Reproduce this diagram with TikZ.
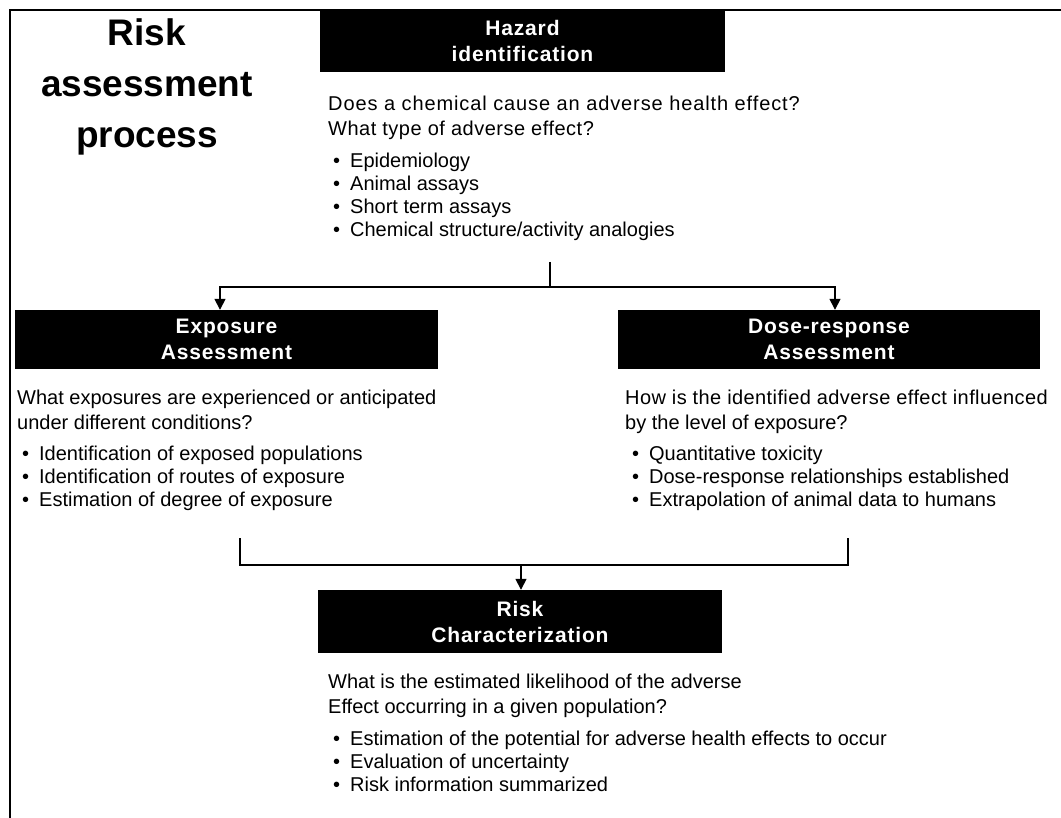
\documentclass[tikz,border=0pt]{standalone}
\usepackage{fontspec}
\setmainfont{Liberation Sans}
\usetikzlibrary{arrows.meta}
\newcommand\mybul{\makebox[17pt][l]{\textbullet}}
\begin{document}
\begin{tikzpicture}[x=1pt,y=-1pt,
  blk/.style={fill=black,text=white,font=\fontsize{21}{26}\selectfont\bfseries\addfontfeature{LetterSpace=4},align=center,inner sep=0pt},
  body/.style={font=\fontsize{20}{25}\selectfont,align=left,anchor=north west,inner sep=0pt},
  blist/.style={font=\fontsize{20}{23}\selectfont,align=left,anchor=north west,inner sep=0pt},
  ttl/.style={font=\fontsize{37}{51}\selectfont\bfseries,align=center},
  conn/.style={line width=1.5pt},
  arr/.style={conn,-{Triangle[width=11pt,length=11pt]}}]
\useasboundingbox (0,0) rectangle (1061,818);
\draw[line width=2pt] (10,818) -- (10,10) -- (1061,10);
\node[ttl] (title) at (147,87) {Risk\\assessment\\process};
% Hazard
\node[blk,minimum width=405pt,minimum height=62pt] (haz) at (522.5,41) {Hazard\\identification};
\node[body] (hq) at (328,96) {{\addfontfeature{LetterSpace=4.5}Does a chemical cause an adverse health effect?}\\{\addfontfeature{LetterSpace=2.5}What type of adverse effect?}};
\node[blist] (hb) at (333,153) {\mybul Epidemiology\\\mybul Animal assays\\\mybul Short term assays\\\mybul Chemical structure/activity analogies};
% Exposure
\node[blk,minimum width=423pt,minimum height=59pt] (expo) at (226.5,339.5) {Exposure\\Assessment};
\node[body] (eq) at (17,390) {What exposures are experienced or anticipated\\under different conditions?};
\node[blist] (eb) at (22,446) {\mybul Identification of exposed populations\\\mybul Identification of routes of exposure\\\mybul Estimation of degree of exposure};
% Dose
\node[blk,minimum width=422pt,minimum height=59pt] (dose) at (829,339.5) {Dose-response\\Assessment};
\node[body] (dq) at (625,390) {{\addfontfeature{LetterSpace=2}How is the identified adverse effect influenced}\\by the level of exposure?};
\node[blist] (db) at (632,446) {\mybul Quantitative toxicity\\\mybul Dose-response relationships established\\\mybul Extrapolation of animal data to humans};
% Risk
\node[blk,minimum width=404pt,minimum height=63pt] (risk) at (520,621.5) {Risk\\Characterization};
\node[body] (rq) at (328,674) {What is the estimated likelihood of the adverse\\Effect occurring in a given population?};
\node[blist] (rb) at (333,731) {\mybul Estimation of the potential for adverse health effects to occur\\\mybul Evaluation of uncertainty\\\mybul Risk information summarized};
% upper connector
\coordinate (h1) at (550,262);
\coordinate (j1) at (550,287);
\coordinate (ea) at (220,287);
\coordinate (da) at (835,287);
\draw[conn] (h1) -- (j1);
\draw[arr] (j1) -- (ea) -- (expo.north -| ea);
\draw[arr] (j1) -- (da) -- (dose.north -| da);
% lower connector
\coordinate (l1) at (240,538);
\coordinate (l2) at (240,565);
\coordinate (r1) at (848,538);
\coordinate (r2) at (848,565);
\coordinate (j2) at (521,565);
\draw[conn] (l1) -- (l2) -- (r2) -- (r1);
\draw[arr] (j2) -- (risk.north -| j2);
\end{tikzpicture}
\end{document}
